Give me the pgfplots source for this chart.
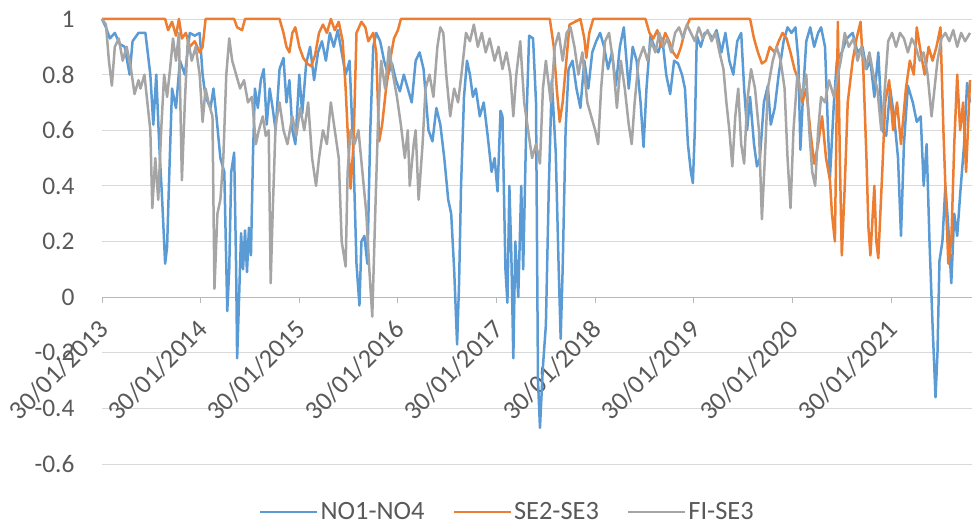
\documentclass[border=0pt]{standalone}
\usepackage{fontspec}
\setmainfont{Carlito}
\usepackage{pgfplots}
\pgfplotsset{compat=1.18}
\definecolor{cblue}{HTML}{5B9BD5}
\definecolor{corange}{HTML}{ED7D31}
\definecolor{cgray}{HTML}{A5A5A5}
\definecolor{ctext}{HTML}{595959}
\definecolor{cgrid}{HTML}{D9D9D9}
\begin{document}
\begin{tikzpicture}
\begin{axis}[
  scale only axis,
  width=870bp, height=445bp,
  xmin=0, xmax=8.82, ymin=-0.6, ymax=1,
  clip=false,
  axis x line*=middle,
  axis y line*=left,
  hide obscured x ticks=false,
  x axis line style={-, draw=cgrid!85!black, line width=0.9bp},
  y axis line style={draw=none},
  xtick={0,1,2,3,4,5,6,7,8},
  xticklabels={30/01/2013,30/01/2014,30/01/2015,30/01/2016,30/01/2017,30/01/2018,30/01/2019,30/01/2020,30/01/2021},
  ytick={-0.6,-0.4,-0.2,0,0.2,0.4,0.6,0.8,1},
  yticklabels={-0.6,-0.4,-0.2,0,0.2,0.4,0.6,0.8,1},
  xtick align=outside,
  major tick length=6bp,
  xtick style={draw=cgrid!85!black, line width=0.9bp},
  ytick style={draw=none},
  ymajorgrids,
  major grid style={draw=cgrid, line width=0.9bp},
  tick label style={text=ctext},
  x tick label style={font=\fontsize{26.5}{31}\selectfont, xshift=2bp, yshift=-22bp, rotate=45, anchor=east, inner sep=0pt},
  y tick label style={font=\fontsize{25.5}{30}\selectfont, anchor=east, xshift=-24bp},
  legend style={at={(0.177,-0.108)}, anchor=west, draw=none, fill=none,
    font=\fontsize{26.5}{31}\selectfont, text=ctext, legend columns=3,
    /tikz/every even column/.append style={column sep=26bp}},
  legend image code/.code={\draw[#1, line width=2.5bp] (0bp,0bp) -- (57bp,0bp);},
  every axis plot/.append style={line width=2.5bp, line join=round},
]
\addplot[cblue] table {
0.00 1.00
0.04 0.97
0.08 0.93
0.13 0.95
0.18 0.91
0.23 0.90
0.28 0.80
0.31 0.92
0.37 0.95
0.44 0.95
0.49 0.80
0.52 0.62
0.55 0.80
0.58 0.55
0.61 0.35
0.64 0.12
0.66 0.18
0.68 0.42
0.71 0.75
0.75 0.68
0.79 0.85
0.84 0.80
0.89 0.95
0.94 0.94
0.99 0.95
1.02 0.80
1.05 0.72
1.10 0.68
1.13 0.75
1.16 0.65
1.20 0.50
1.24 0.45
1.27 -0.05
1.29 0.10
1.31 0.45
1.34 0.52
1.36 0.10
1.37 -0.22
1.39 0.00
1.41 0.23
1.43 0.10
1.45 0.24
1.47 0.09
1.49 0.25
1.51 0.15
1.53 0.50
1.55 0.75
1.58 0.68
1.61 0.78
1.64 0.82
1.67 0.62
1.70 0.75
1.73 0.68
1.76 0.60
1.80 0.82
1.84 0.86
1.87 0.70
1.90 0.78
1.93 0.60
1.96 0.55
2.00 0.80
2.03 0.66
2.07 0.84
2.11 0.90
2.15 0.78
2.19 0.88
2.23 0.92
2.27 0.85
2.31 0.95
2.35 0.90
2.39 0.96
2.43 0.88
2.47 0.80
2.51 0.85
2.55 0.50
2.58 0.12
2.61 -0.03
2.63 0.20
2.66 0.22
2.69 0.12
2.72 0.60
2.75 0.90
2.78 0.95
2.82 0.92
2.86 0.85
2.90 0.80
2.94 0.84
2.98 0.78
3.02 0.74
3.06 0.80
3.10 0.75
3.14 0.70
3.18 0.85
3.22 0.88
3.26 0.82
3.31 0.60
3.35 0.56
3.39 0.68
3.43 0.62
3.47 0.50
3.51 0.35
3.54 0.30
3.57 0.10
3.60 -0.17
3.62 0.05
3.64 0.40
3.67 0.72
3.70 0.85
3.73 0.80
3.76 0.72
3.79 0.75
3.83 0.65
3.87 0.70
3.91 0.58
3.95 0.45
3.98 0.50
4.01 0.38
4.04 0.67
4.06 0.65
4.09 0.10
4.11 -0.02
4.13 0.40
4.15 0.15
4.17 -0.22
4.19 0.20
4.22 0.00
4.25 0.40
4.27 0.10
4.30 0.60
4.33 0.94
4.37 0.93
4.40 0.70
4.42 -0.30
4.44 -0.47
4.47 -0.25
4.50 -0.10
4.53 0.40
4.56 0.78
4.60 0.52
4.63 0.10
4.65 -0.15
4.67 0.10
4.70 0.60
4.73 0.82
4.77 0.85
4.81 0.75
4.85 0.68
4.89 0.85
4.93 0.75
4.97 0.88
5.01 0.92
5.05 0.95
5.09 0.90
5.13 0.82
5.17 0.88
5.21 0.76
5.25 0.90
5.29 0.97
5.34 0.75
5.38 0.90
5.42 0.85
5.46 0.70
5.49 0.54
5.52 0.75
5.56 0.94
5.60 0.90
5.64 0.88
5.68 0.93
5.72 0.80
5.76 0.73
5.80 0.85
5.84 0.84
5.88 0.80
5.91 0.75
5.94 0.55
5.97 0.45
5.99 0.41
6.01 0.60
6.03 0.94
6.07 0.90
6.11 0.95
6.15 0.95
6.19 0.93
6.23 0.96
6.28 0.88
6.32 0.95
6.36 0.85
6.40 0.80
6.44 0.92
6.48 0.95
6.51 0.75
6.54 0.60
6.57 0.72
6.61 0.55
6.64 0.47
6.67 0.50
6.71 0.70
6.75 0.76
6.78 0.62
6.82 0.68
6.86 0.80
6.91 0.92
6.95 0.97
6.99 0.95
7.03 0.97
7.06 0.85
7.08 0.53
7.11 0.75
7.14 0.92
7.18 0.97
7.22 0.90
7.26 0.95
7.29 0.97
7.33 0.90
7.36 0.60
7.38 0.43
7.42 0.70
7.45 0.85
7.50 0.88
7.55 0.93
7.61 0.95
7.66 0.88
7.71 0.90
7.75 0.82
7.79 0.85
7.83 0.72
7.87 0.88
7.91 0.60
7.95 0.58
7.99 0.75
8.03 0.65
8.07 0.50
8.10 0.22
8.13 0.55
8.17 0.76
8.22 0.70
8.26 0.63
8.30 0.65
8.33 0.40
8.36 0.55
8.39 0.19
8.42 -0.10
8.45 -0.36
8.47 -0.20
8.49 0.13
8.52 0.20
8.55 0.40
8.58 0.25
8.61 0.05
8.64 0.30
8.67 0.22
8.70 0.37
8.74 0.55
8.77 0.77
8.80 0.70
};
\addlegendentry{NO1-NO4}
\addplot[corange] table {
0.00 1.00
0.64 1.00
0.67 0.96
0.71 0.99
0.75 0.94
0.78 1.00
0.81 0.93
0.85 0.95
0.89 0.90
0.94 0.92
0.99 0.88
1.02 0.90
1.05 1.00
1.34 1.00
1.37 0.97
1.42 0.96
1.45 1.00
1.80 1.00
1.84 0.95
1.87 0.90
1.90 0.88
1.93 0.95
1.96 0.97
2.00 0.90
2.04 0.86
2.08 0.84
2.12 0.83
2.16 0.87
2.20 0.95
2.24 0.98
2.28 0.95
2.32 1.00
2.36 0.96
2.40 0.99
2.44 0.92
2.47 0.75
2.49 0.60
2.52 0.39
2.55 0.55
2.58 0.95
2.63 0.99
2.67 0.97
2.70 0.92
2.75 0.95
2.78 0.88
2.81 0.56
2.84 0.62
2.88 0.75
2.92 0.85
2.96 0.93
3.00 0.96
3.03 1.00
4.54 1.00
4.58 0.90
4.61 0.75
4.64 0.63
4.67 0.70
4.71 0.86
4.74 0.98
4.85 1.00
4.89 0.93
4.91 0.86
4.94 0.95
4.98 1.00
5.51 1.00
5.55 0.95
5.59 0.93
5.63 0.96
5.67 0.90
5.71 0.95
5.75 0.92
5.79 0.88
5.83 0.86
5.87 0.90
5.91 0.96
5.96 1.00
6.57 1.00
6.61 0.93
6.65 0.88
6.69 0.84
6.73 0.85
6.77 0.90
6.82 0.88
6.86 0.92
6.90 0.95
6.94 0.93
6.98 0.88
7.02 0.82
7.06 0.78
7.10 0.70
7.14 0.75
7.18 0.60
7.22 0.48
7.26 0.55
7.30 0.65
7.34 0.50
7.38 0.42
7.40 0.30
7.43 0.20
7.46 0.99
7.48 0.50
7.50 0.15
7.53 0.40
7.56 0.70
7.61 0.85
7.65 0.93
7.69 0.99
7.72 0.80
7.75 0.50
7.77 0.25
7.79 0.15
7.83 0.40
7.85 0.20
7.87 0.14
7.91 0.45
7.94 0.70
7.98 0.78
8.02 0.60
8.06 0.70
8.10 0.55
8.15 0.75
8.19 0.85
8.23 0.80
8.26 0.97
8.30 0.88
8.34 0.80
8.38 0.90
8.42 0.85
8.46 0.90
8.50 0.97
8.53 0.60
8.56 0.30
8.58 0.12
8.61 0.20
8.64 0.55
8.67 0.80
8.70 0.60
8.73 0.70
8.76 0.45
8.80 0.78
};
\addlegendentry{SE2-SE3}
\addplot[cgray] table {
0.00 1.00
0.04 0.98
0.07 0.85
0.10 0.76
0.13 0.90
0.17 0.93
0.21 0.85
0.25 0.90
0.29 0.83
0.33 0.73
0.37 0.78
0.39 0.75
0.43 0.80
0.46 0.70
0.49 0.60
0.51 0.32
0.54 0.50
0.57 0.35
0.60 0.60
0.63 0.80
0.66 0.72
0.69 0.82
0.72 0.93
0.75 0.85
0.78 0.95
0.81 0.42
0.84 0.70
0.87 0.93
0.91 0.85
0.95 0.90
0.99 0.80
1.02 0.63
1.05 0.75
1.08 0.70
1.12 0.65
1.14 0.03
1.17 0.30
1.20 0.35
1.23 0.50
1.26 0.80
1.29 0.93
1.32 0.85
1.36 0.80
1.40 0.75
1.44 0.78
1.48 0.70
1.52 0.72
1.56 0.55
1.59 0.60
1.63 0.65
1.66 0.58
1.69 0.60
1.71 0.05
1.73 0.30
1.76 0.62
1.80 0.70
1.84 0.60
1.88 0.55
1.93 0.65
1.97 0.58
2.01 0.68
2.05 0.60
2.09 0.70
2.13 0.50
2.17 0.40
2.20 0.50
2.24 0.60
2.28 0.55
2.32 0.70
2.36 0.60
2.40 0.50
2.43 0.20
2.47 0.11
2.49 0.45
2.52 0.60
2.56 0.55
2.60 0.60
2.64 0.45
2.68 0.30
2.71 0.10
2.74 -0.07
2.77 0.30
2.80 0.65
2.83 0.85
2.87 0.75
2.91 0.90
2.95 0.80
2.99 0.72
3.03 0.62
3.07 0.50
3.10 0.60
3.12 0.40
3.16 0.55
3.18 0.60
3.21 0.35
3.25 0.55
3.28 0.75
3.32 0.80
3.36 0.72
3.40 0.90
3.43 0.97
3.46 0.95
3.49 0.80
3.53 0.65
3.57 0.75
3.61 0.70
3.65 0.82
3.69 0.95
3.73 0.92
3.77 0.98
3.81 0.90
3.85 0.95
3.89 0.88
3.93 0.93
3.98 0.85
4.02 0.90
4.06 0.82
4.10 0.88
4.14 0.80
4.17 0.65
4.20 0.80
4.24 0.92
4.28 0.70
4.32 0.60
4.36 0.50
4.40 0.55
4.44 0.48
4.47 0.75
4.50 0.85
4.55 0.70
4.59 0.90
4.63 0.95
4.67 0.85
4.71 0.95
4.75 0.97
4.79 0.90
4.83 0.80
4.87 0.88
4.92 0.70
4.96 0.65
5.00 0.60
5.03 0.55
5.06 0.75
5.10 0.92
5.14 0.95
5.18 0.85
5.22 0.68
5.26 0.85
5.30 0.75
5.34 0.62
5.37 0.55
5.40 0.70
5.44 0.85
5.49 0.90
5.53 0.85
5.57 0.92
5.61 0.88
5.65 0.95
5.69 0.90
5.73 0.93
5.77 0.88
5.81 0.95
5.85 0.97
5.89 0.93
5.93 0.98
5.97 0.95
6.01 0.92
6.05 0.97
6.09 0.93
6.14 0.96
6.18 0.92
6.22 0.95
6.26 0.88
6.30 0.82
6.33 0.70
6.36 0.60
6.39 0.47
6.42 0.65
6.45 0.75
6.48 0.55
6.51 0.48
6.54 0.70
6.58 0.82
6.62 0.75
6.66 0.60
6.69 0.28
6.72 0.50
6.75 0.75
6.80 0.85
6.84 0.90
6.88 0.85
6.92 0.75
6.95 0.50
6.98 0.32
7.01 0.60
7.05 0.80
7.09 0.72
7.14 0.80
7.17 0.60
7.20 0.45
7.23 0.40
7.26 0.60
7.29 0.72
7.33 0.70
7.37 0.78
7.42 0.72
7.46 0.80
7.49 0.85
7.53 0.95
7.57 0.90
7.62 0.93
7.66 0.85
7.70 0.90
7.74 0.82
7.78 0.88
7.82 0.80
7.86 0.75
7.90 0.60
7.93 0.72
7.97 0.92
8.01 0.95
8.05 0.90
8.09 0.95
8.13 0.93
8.17 0.88
8.21 0.93
8.25 0.90
8.29 0.85
8.33 0.88
8.37 0.80
8.41 0.65
8.44 0.75
8.47 0.85
8.51 0.93
8.55 0.95
8.59 0.92
8.63 0.96
8.67 0.90
8.71 0.95
8.75 0.92
8.80 0.95
};
\addlegendentry{FI-SE3}
\coordinate (sw) at (rel axis cs:0,0);
\coordinate (ne) at (rel axis cs:1,1);
\end{axis}
\pgfresetboundingbox
\path[use as bounding box] ([xshift=-102bp,yshift=-67bp]sw) rectangle ([yshift=19bp]ne);
\end{tikzpicture}
\end{document}
